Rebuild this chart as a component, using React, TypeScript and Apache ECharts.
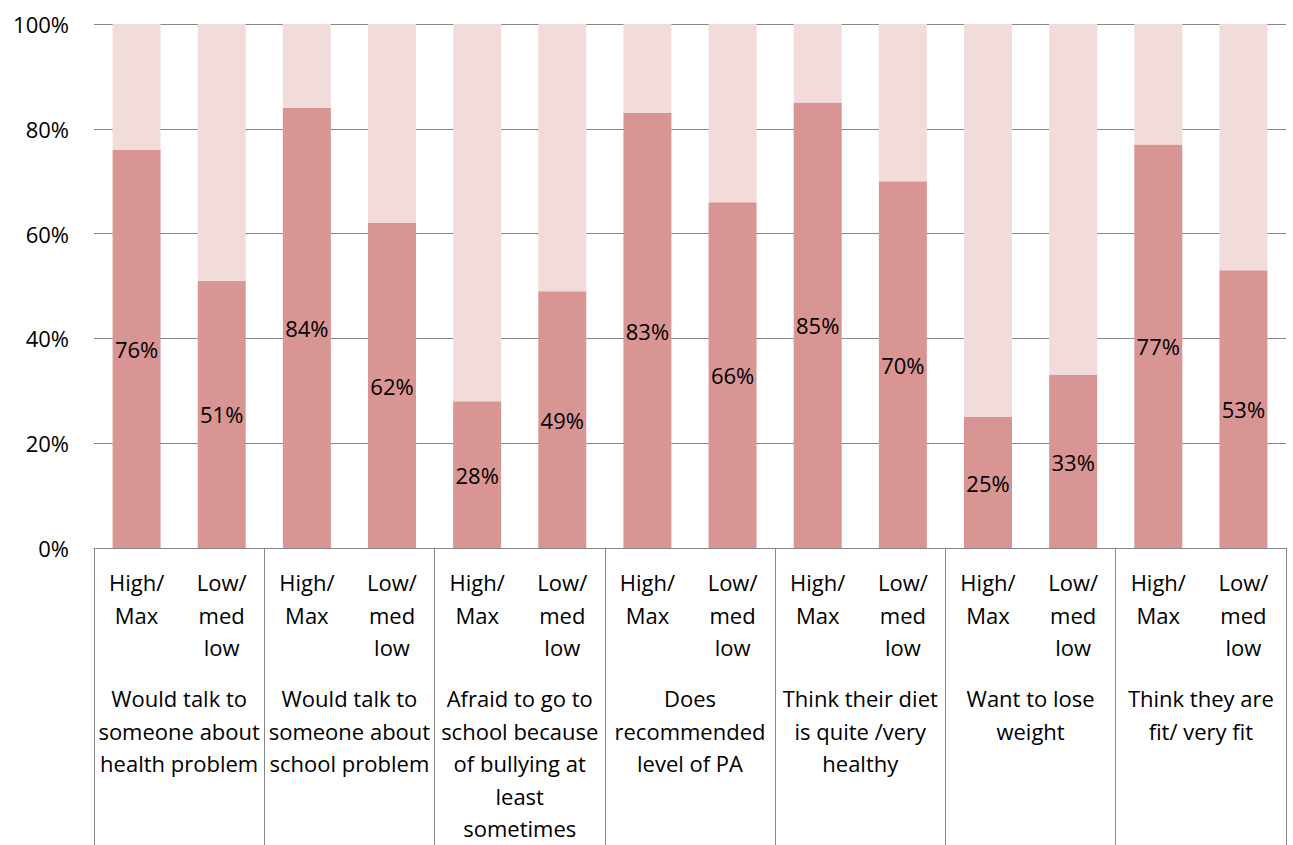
import React, { useEffect, useRef } from "react";
import * as echarts from "echarts";

const subCategories = [
  "High/\nMax", "Low/\nmed\nlow",
  "High/\nMax", "Low/\nmed\nlow",
  "High/\nMax", "Low/\nmed\nlow",
  "High/\nMax", "Low/\nmed\nlow",
  "High/\nMax", "Low/\nmed\nlow",
  "High/\nMax", "Low/\nmed\nlow",
  "High/\nMax", "Low/\nmed\nlow",
];

const groups = [
  "Would talk to\nsomeone about\nhealth problem",
  "Would talk to\nsomeone about\nschool problem",
  "Afraid to go to\nschool because\nof bullying at\nleast\nsometimes",
  "Does\nrecommended\nlevel of PA",
  "Think their diet\nis quite /very\nhealthy",
  "Want to lose\nweight",
  "Think they are\nfit/ very fit",
];

const yesValues = [76, 51, 84, 62, 28, 49, 83, 66, 85, 70, 25, 33, 77, 53];
const restValues = yesValues.map((v) => 100 - v);

const yTicks = [0, 20, 40, 60, 80, 100];

const FONT = "'Open Sans', 'Noto Sans', sans-serif";
const FS = 22;

export default function App() {
  const ref = useRef<HTMLDivElement>(null);
  useEffect(() => {
    if (!ref.current) return;
    const chart = echarts.init(ref.current, undefined, { renderer: "svg" });
    chart.setOption({
      animation: false,
      textStyle: { fontFamily: FONT },
      grid: { left: 94, right: 7, top: 24, bottom: 297, containLabel: false },
      xAxis: [
        {
          type: "category",
          data: subCategories,
          position: "bottom",
          axisLine: { show: true, lineStyle: { color: "#868686", width: 1 } },
          axisTick: { show: false },
          axisLabel: {
            interval: 0,
            margin: 18,
            fontSize: FS,
            lineHeight: 32.5,
            color: "#000",
            fontFamily: FONT,
          },
        },
        {
          type: "category",
          data: groups,
          position: "bottom",
          axisLine: { show: false },
          axisTick: {
            show: true,
            interval: 0,
            length: 300,
            lineStyle: { color: "#868686", width: 1 },
          },
          axisLabel: {
            interval: 0,
            margin: 134,
            fontSize: FS,
            lineHeight: 32.5,
            color: "#000",
            fontFamily: FONT,
            verticalAlign: "top",
          },
        },
      ],
      yAxis: {
        type: "value",
        min: 0,
        max: 100,
        interval: 20,
        axisLine: { show: false },
        axisTick: { show: false },
        splitLine: { lineStyle: { color: "#868686", width: 1 } },
        axisLabel: {
          formatter: (v: number) => (yTicks.includes(v) ? v + "%" : ""),
          margin: 25,
          fontSize: FS,
          color: "#000",
          fontFamily: FONT,
        },
      },
      series: [
        {
          type: "bar",
          stack: "total",
          xAxisIndex: 0,
          data: yesValues,
          barWidth: 48,
          itemStyle: { color: "#D99594" },
          label: {
            show: true,
            position: "inside",
            formatter: "{c}%",
            fontSize: FS,
            color: "#000",
            fontFamily: FONT,
          },
        },
        {
          type: "bar",
          stack: "total",
          xAxisIndex: 0,
          data: restValues,
          barWidth: 48,
          itemStyle: { color: "#F2DBDB" },
        },
      ],
    });
    return () => chart.dispose();
  }, []);
  return <div ref={ref} style={{ width: 1293, height: 845, position: "absolute", left: 0, top: 0 }} />;
}
